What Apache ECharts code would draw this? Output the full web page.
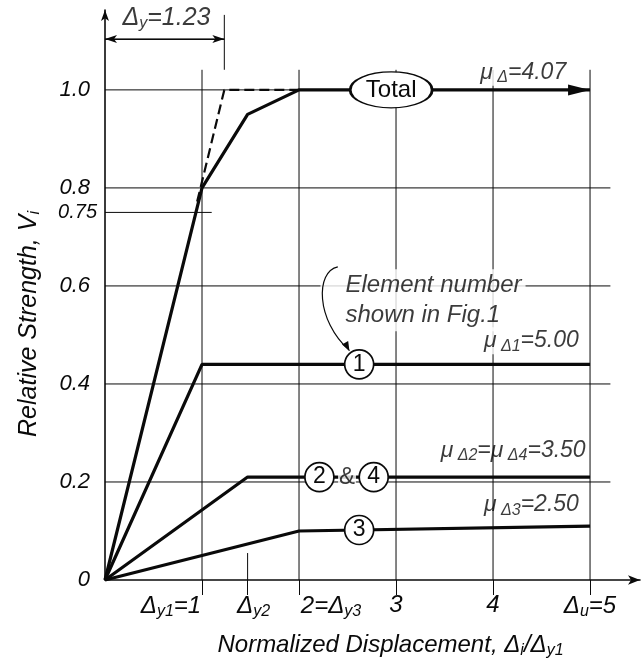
<!DOCTYPE html>
<html><head><meta charset="utf-8">
<script src="https://cdn.jsdelivr.net/npm/echarts@6/dist/echarts.min.js"></script>
<style>html,body{margin:0;padding:0;background:#fff}#c{width:644px;height:670px}</style>
</head><body><div id="c"></div>
<script>
// ---- data ----
const totalCurve = [[0,0],[1,0.8],[1.47,0.95],[2,1.0],[5,1.0]];
const idealCurve = [[0.95,0.772],[1.23,1.0],[2,1.0]];
const element1 = [[0,0],[1,0.44],[5,0.44]];
const element24 = [[0,0],[1.47,0.21],[5,0.21]];
const element3 = [[0,0],[2,0.10],[5,0.11]];
const xTickValues = [1, 1.47, 2, 3, 4, 5];
const xTickLabels = ['{n|Δ}{s|y1}{nR|=1}', '{nL2|Δ}{s|y2}', '{nL|2=Δ}{s|y3}', '{n|3}', '{n|4}', '{n|Δ}{s|u}{n|=5}'];
const yTickValues = [0, 0.2, 0.4, 0.6, 0.75, 0.8, 1.0];
const yTickLabels = ['{n|0}', '{n|0.2}', '{n|0.4}', '{n|0.6}', '{q|0.75}', '{n|0.8}', '{n|1.0}'];
const hGridValues = [0.2, 0.4, 0.6, 0.8, 1.0];
const vGridValues = [1, 2, 3, 4, 5];
const elementMarkers = [[2.62,0.44,'1'],[2.21,0.21,'2'],[2.77,0.21,'4'],[2.62,0.102,'3']];

const FF = '"Liberation Sans", Arial, sans-serif';
const INK = '#0a0a0a';
const chart = echarts.init(document.getElementById('c'), null, {renderer:'canvas'});

function it(size, extra) { return Object.assign({fontFamily:FF, fontStyle:'italic', fontSize:size, color:INK}, extra||{}); }
const subRich = it(16, {padding:[11,0,0,0]});
const nRich = it(24);

function gridLine(a, b) {
  return {type:'line', data:[a,b], silent:true, clip:false, symbol:'none', z:1,
    lineStyle:{color:INK, width:1}, animation:false};
}
const gridSeries = [];
hGridValues.forEach(v => gridSeries.push(gridLine([0,v],[v===1.0?5:5.21,v])));
vGridValues.forEach(v => gridSeries.push(gridLine([v,0],[v,1.041])));
gridSeries.push(gridLine([1.47,0],[1.47,0.055]));
gridSeries.push(gridLine([0,0.75],[1.1,0.75]));
gridSeries.push(gridLine([1.23,1.041],[1.23,1.153]));

function curve(data, w, extra) {
  return Object.assign({type:'line', data:data, symbol:'none', clip:false, silent:true, z:3,
    lineStyle:{color:INK, width:w}}, extra||{});
}

const muRich = {m:it(23), s:it(16, {padding:[11,0,0,0]})};
function note(x, y, text, pos, rich, bg) {
  const label = {show:true, position:pos, distance:0, formatter:text, rich:rich};
  if (bg) { label.backgroundColor = '#fff'; label.padding = [0,2,0,2]; }
  return {value:[x,y], label:label};
}

const option = {
  animation:false,
  grid:{left:105, right:4, top:10, bottom:90, containLabel:false},
  xAxis:{type:'value', min:0, max:5.515, splitLine:{show:false},
    axisLine:{show:true, lineStyle:{color:INK, width:1.6}, symbol:['none','arrow'], symbolSize:[7,12]},
    axisTick:{show:true, customValues:xTickValues, length:15, lineStyle:{color:INK, width:1}},
    axisLabel:{show:true, customValues:xTickValues, margin:13,
      formatter:v => xTickLabels[xTickValues.findIndex(t => Math.abs(t-v)<1e-6)] || '',
      rich:{n:nRich, s:subRich,
        nR:it(24, {padding:[0,62,0,0]}),
        nL:it(24, {padding:[0,0,0,64]}),
        nL2:it(24, {padding:[0,0,0,12]})}},
    name:'{t|Normalized Displacement, Δ}{s|i}{t|/Δ}{s|y1}', nameLocation:'middle', nameGap:52,
    nameTextStyle:{padding:[0,0,0,36], rich:{t:nRich, s:subRich}}
  },
  yAxis:{type:'value', min:0, max:1.163, splitLine:{show:false},
    axisLine:{show:true, lineStyle:{color:INK, width:1.6}, symbol:['none','arrow'], symbolSize:[6,11]},
    axisTick:{show:false},
    axisLabel:{show:true, customValues:yTickValues, margin:8,
      formatter:v => yTickLabels[yTickValues.findIndex(t => Math.abs(t-v)<1e-6)] || '',
      rich:{n:it(22, {padding:[0,7,0,0]}), q:it(20)}},
    name:'{t|Relative Strength, V}{s|i}', nameLocation:'middle', nameGap:62,
    nameTextStyle:{padding:[0,58,0,0], rich:{t:it(25), s:subRich}}
  },
  series: gridSeries.concat([
    curve(idealCurve, 2.2, {lineStyle:{color:INK, width:2.2, type:[10,5]}, z:2}),
    curve(totalCurve, 3.2),
    curve(element1, 3.2),
    curve(element24, 3.2),
    curve(element3, 3.2),
    {type:'line', data:[[0,1.104],[1.23,1.104]], symbol:'none', silent:true, z:2,
      lineStyle:{color:INK, width:1},
      markLine:{silent:true, symbol:['arrow','arrow'], symbolSize:[6,12], label:{show:false},
        lineStyle:{color:INK, width:1, type:'solid'},
        data:[[{coord:[0,1.104]},{coord:[1.23,1.104]}]]}},
    {type:'scatter', silent:true, z:5, symbol:'circle', symbolSize:29,
      itemStyle:{color:'#fff', borderColor:INK, borderWidth:1.7, opacity:1},
      label:{show:true, position:'inside', formatter:p => p.value[2],
        fontFamily:FF, fontSize:23, color:INK},
      data:elementMarkers},
    {type:'scatter', silent:true, z:5, symbol:'circle', symbolSize:[82,36],
      itemStyle:{color:'#fff', borderColor:INK, borderWidth:1.9, opacity:1},
      label:{show:true, position:'inside', formatter:'Total', fontFamily:FF, fontSize:24, color:INK},
      data:[[2.95,1.0]]},
    {type:'scatter', silent:true, z:6, symbolSize:1, itemStyle:{color:'rgba(0,0,0,0)'},
      data:[
        note(2.495, 0.21, '{a|&}', 'inside', {a:{fontFamily:FF, fontSize:24, color:INK, backgroundColor:'#fff', padding:[0,1,0,1]}}),
        note(0.634, 1.147, '{n|Δ}{s|y}{n|=1.23}', 'inside', {n:it(25), s:subRich}),
        note(4.78, 1.036, '{m|μ}{s| Δ}{m|=4.07}', 'left', muRich, true),
        note(4.91, 0.488, '{m|μ}{s| Δ1}{m|=5.00}', 'left', muRich, true),
        note(4.96, 0.265, '{m|μ}{s| Δ2}{m|=μ}{s| Δ4}{m|=3.50}', 'left', muRich, false),
        note(4.89, 0.153, '{m|μ}{s| Δ3}{m|=2.50}', 'left', muRich, false),
        {value:[2.216, 0.571], label:{show:true, position:'right', distance:0,
          formatter:'Element number\nshown in Fig.1', fontFamily:FF, fontStyle:'italic', fontSize:24,
          lineHeight:30, color:INK, backgroundColor:'#fff', padding:[1,4,1,25]}}
      ]}
  ])
};
chart.setOption(option);

function P(x, y) { return chart.convertToPixel({gridIndex:0}, [x, y]); }
function arrowHead(tip, from, len, half) {
  const dx = tip[0]-from[0], dy = tip[1]-from[1];
  const L = Math.hypot(dx, dy), ux = dx/L, uy = dy/L;
  const bx = tip[0]-ux*len, by = tip[1]-uy*len;
  return [[tip[0],tip[1]],[bx-uy*half, by+ux*half],[bx+uy*half, by-ux*half]];
}
const tipT = P(5, 1.0), fromT = P(4, 1.0);
const s0 = P(2.40, 0.639), c1 = P(2.17, 0.63), c2 = P(2.17, 0.53), e0 = P(2.52, 0.468);
chart.setOption({graphic:[
  {type:'polygon', z:10, shape:{points:arrowHead(tipT, fromT, 22, 5.5)}, style:{fill:INK}},
  {type:'bezierCurve', z:10, shape:{x1:s0[0], y1:s0[1], cpx1:c1[0], cpy1:c1[1], cpx2:c2[0], cpy2:c2[1], x2:e0[0], y2:e0[1]},
    style:{stroke:INK, lineWidth:1.2, fill:null}},
  {type:'polygon', z:10, shape:{points:arrowHead(e0, [e0[0]-5, e0[1]-9], 9, 3.5)}, style:{fill:INK}}
]});
</script></body></html>
